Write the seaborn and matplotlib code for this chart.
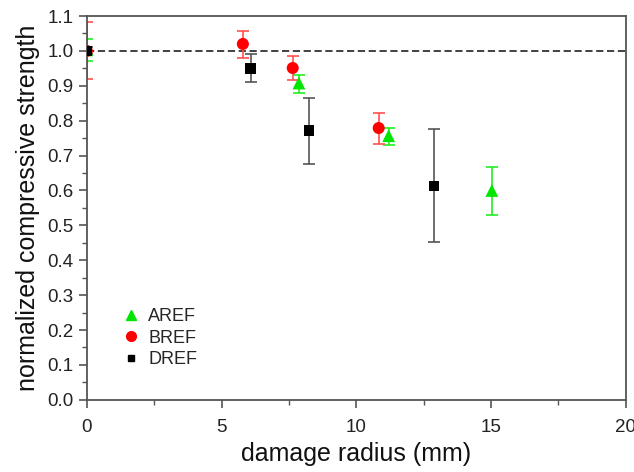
import matplotlib
matplotlib.use("Agg")
import matplotlib.pyplot as plt
import seaborn as sns
import pandas as pd
from matplotlib.ticker import MultipleLocator, FormatStrFormatter
from matplotlib.lines import Line2D

sns.set_style("ticks")
plt.rcParams['font.family'] = ['Liberation Sans', 'DejaVu Sans']

# AREF
a_x = [0.0, 7.87, 11.2, 15.03]
a_y = [1.003, 0.908, 0.757, 0.600]
a_lo = [0.971, 0.880, 0.731, 0.530]
a_hi = [1.034, 0.930, 0.779, 0.667]
# BREF
b_x = [0.0, 5.79, 7.64, 10.83]
b_y = [1.000, 1.020, 0.951, 0.779]
b_lo = [0.920, 0.980, 0.917, 0.734]
b_hi = [1.083, 1.057, 0.986, 0.823]
# DREF
d_x = [0.0, 6.08, 8.24, 12.88]
d_y = [1.000, 0.949, 0.771, 0.613]
d_lo = [0.990, 0.911, 0.676, 0.453]
d_hi = [1.010, 0.991, 0.866, 0.777]

series = ["AREF", "BREF", "DREF"]
colors = {"AREF": "#00e600", "BREF": "#ff0000", "DREF": "#000000"}
ecolors = {"AREF": "#22ee22", "BREF": "#ff5050", "DREF": "#555555"}
markers = {"AREF": "^", "BREF": "o", "DREF": "s"}
sizes = {"AREF": 85, "BREF": 75, "DREF": 60}

rows = []
for name, xs, ys, lo, hi in [("AREF", a_x, a_y, a_lo, a_hi),
                             ("BREF", b_x, b_y, b_lo, b_hi),
                             ("DREF", d_x, d_y, d_lo, d_hi)]:
    for x, y, l, h in zip(xs, ys, lo, hi):
        rows.append(dict(series=name, x=x, y=y, lo=l, hi=h))
df = pd.DataFrame(rows)

fig = plt.figure(figsize=(6.34, 4.72), dpi=100)
ax = fig.add_axes([0.137, 0.153, 0.850, 0.813])

ax.axhline(1.0, color="#333333", linestyle=(0, (4, 2)), linewidth=1.3, zorder=1)

for name in series:
    sub = df[df.series == name]
    ax.errorbar(sub.x, sub.y, yerr=[sub.y - sub.lo, sub.hi - sub.y], fmt="none",
                ecolor=ecolors[name], elinewidth=1.2, capsize=4, capthick=1.2, zorder=2)

sns.scatterplot(data=df, x="x", y="y", hue="series", style="series",
                palette=colors, markers=markers, size="series", sizes=sizes,
                edgecolor="none", linewidth=0, ax=ax, zorder=3, legend=False)

handles = [Line2D([], [], linestyle="none", marker=markers[n], color=colors[n],
                  markersize={"AREF": 7, "BREF": 7, "DREF": 5}[n]) for n in series]
ax.legend(handles, series, loc="lower left", bbox_to_anchor=(0.035, 0.04), frameon=False,
          fontsize=13, handletextpad=0.45, labelspacing=0.25, handlelength=1.0)

ax.set_xlim(0, 20)
ax.set_ylim(0, 1.1)
ax.xaxis.set_major_locator(MultipleLocator(5))
ax.xaxis.set_minor_locator(MultipleLocator(2.5))
ax.yaxis.set_major_locator(MultipleLocator(0.1))
ax.yaxis.set_minor_locator(MultipleLocator(0.05))
ax.yaxis.set_major_formatter(FormatStrFormatter("%.1f"))
ax.xaxis.set_major_formatter(FormatStrFormatter("%d"))

for s in ax.spines.values():
    s.set_color("#555555")
    s.set_linewidth(1.3)
ax.tick_params(which="major", direction="out", length=6, width=1.2, color="#555555",
               labelsize=13.5, labelcolor="#222222", top=False, right=False)
ax.tick_params(which="minor", direction="out", length=3.5, width=1.0, color="#555555",
               top=False, right=False)
ax.tick_params(axis="x", pad=8)

ax.set_xlabel("damage radius (mm)", fontsize=18, color="#111111", labelpad=4)
ax.set_ylabel("normalized compressive strength", fontsize=18, color="#111111", labelpad=5)

fig.savefig("out.png", dpi=100)
